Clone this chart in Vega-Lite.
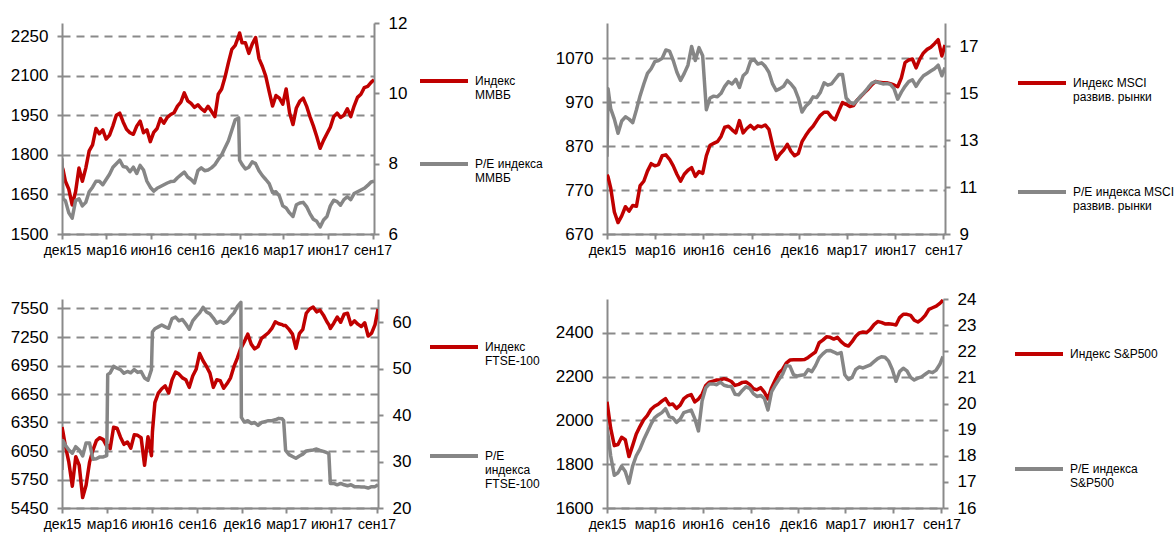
{
"$schema":"https://vega.github.io/schema/vega-lite/v6.json",
"padding":{"left":10,"top":14,"right":5,"bottom":5},
"background":"#ffffff",
"datasets":{
"moex":[
{"d":"2015-12-01","a":1755,"b":8.15},{"d":"2015-12-03","a":1745,"b":7.0},{"d":"2015-12-08","a":1700,"b":6.95},{"d":"2015-12-15","a":1670,"b":6.6},{"d":"2015-12-22","a":1610,"b":6.45},{"d":"2015-12-29","a":1660,"b":6.95},
{"d":"2016-01-05","a":1750,"b":7.0},{"d":"2016-01-12","a":1700,"b":6.8},{"d":"2016-01-19","a":1750,"b":6.9},{"d":"2016-01-26","a":1815,"b":7.2},
{"d":"2016-02-02","a":1838,"b":7.33},{"d":"2016-02-09","a":1900,"b":7.5},{"d":"2016-02-16","a":1880,"b":7.5},{"d":"2016-02-23","a":1895,"b":7.4},
{"d":"2016-03-01","a":1860,"b":7.55},{"d":"2016-03-08","a":1875,"b":7.7},{"d":"2016-03-15","a":1910,"b":7.9},{"d":"2016-03-22","a":1950,"b":8.0},{"d":"2016-03-29","a":1958,"b":8.1},
{"d":"2016-04-05","a":1925,"b":7.92},{"d":"2016-04-12","a":1897,"b":7.9},{"d":"2016-04-19","a":1884,"b":7.77},{"d":"2016-04-26","a":1878,"b":7.9},
{"d":"2016-05-03","a":1909,"b":7.72},{"d":"2016-05-10","a":1928,"b":7.95},{"d":"2016-05-17","a":1884,"b":7.82},{"d":"2016-05-24","a":1895,"b":7.5},{"d":"2016-05-31","a":1850,"b":7.33},
{"d":"2016-06-07","a":1885,"b":7.22},{"d":"2016-06-14","a":1900,"b":7.3},{"d":"2016-06-21","a":1938,"b":7.35},{"d":"2016-06-28","a":1920,"b":7.4},
{"d":"2016-07-05","a":1942,"b":7.45},{"d":"2016-07-12","a":1953,"b":7.49},{"d":"2016-07-19","a":1960,"b":7.5},{"d":"2016-07-26","a":1985,"b":7.6},
{"d":"2016-08-02","a":2000,"b":7.68},{"d":"2016-08-09","a":2035,"b":7.76},{"d":"2016-08-16","a":2005,"b":7.62},{"d":"2016-08-23","a":1995,"b":7.55},{"d":"2016-08-30","a":1980,"b":7.45},
{"d":"2016-09-06","a":1990,"b":7.8},{"d":"2016-09-13","a":1975,"b":7.88},{"d":"2016-09-20","a":1965,"b":7.8},{"d":"2016-09-27","a":1984,"b":7.82},
{"d":"2016-10-04","a":1965,"b":7.88},{"d":"2016-10-11","a":1945,"b":7.97},{"d":"2016-10-18","a":2030,"b":8.12},{"d":"2016-10-25","a":2050,"b":8.25},
{"d":"2016-11-01","a":2095,"b":8.45},{"d":"2016-11-08","a":2150,"b":8.65},{"d":"2016-11-15","a":2200,"b":8.95},{"d":"2016-11-22","a":2215,"b":9.25},{"d":"2016-11-29","a":2250,"b":9.3},
{"d":"2016-12-01","a":2262,"b":8.1},{"d":"2016-12-06","a":2225,"b":7.98},{"d":"2016-12-13","a":2225,"b":7.85},{"d":"2016-12-20","a":2185,"b":7.9},{"d":"2016-12-27","a":2220,"b":8.05},
{"d":"2017-01-03","a":2245,"b":8.0},{"d":"2017-01-10","a":2165,"b":7.8},{"d":"2017-01-17","a":2135,"b":7.66},{"d":"2017-01-24","a":2098,"b":7.55},{"d":"2017-01-31","a":2040,"b":7.43},
{"d":"2017-02-07","a":1985,"b":7.18},{"d":"2017-02-14","a":2025,"b":7.2},{"d":"2017-02-21","a":2015,"b":7.08},{"d":"2017-02-28","a":1992,"b":6.8},
{"d":"2017-03-07","a":2050,"b":6.74},{"d":"2017-03-14","a":1960,"b":6.6},{"d":"2017-03-21","a":1915,"b":6.5},{"d":"2017-03-28","a":1978,"b":6.83},
{"d":"2017-04-04","a":2003,"b":6.88},{"d":"2017-04-11","a":2015,"b":6.9},{"d":"2017-04-18","a":1985,"b":6.78},{"d":"2017-04-25","a":1945,"b":6.58},
{"d":"2017-05-02","a":1910,"b":6.42},{"d":"2017-05-09","a":1870,"b":6.36},{"d":"2017-05-16","a":1825,"b":6.2},{"d":"2017-05-23","a":1855,"b":6.4},{"d":"2017-05-30","a":1880,"b":6.5},
{"d":"2017-06-06","a":1905,"b":6.8},{"d":"2017-06-13","a":1945,"b":6.96},{"d":"2017-06-20","a":1958,"b":6.92},{"d":"2017-06-27","a":1942,"b":6.82},
{"d":"2017-07-04","a":1950,"b":6.98},{"d":"2017-07-11","a":1975,"b":7.06},{"d":"2017-07-18","a":1945,"b":6.98},{"d":"2017-07-25","a":1985,"b":7.15},
{"d":"2017-08-01","a":2018,"b":7.2},{"d":"2017-08-08","a":2030,"b":7.25},{"d":"2017-08-15","a":2055,"b":7.3},{"d":"2017-08-22","a":2060,"b":7.38},{"d":"2017-08-29","a":2075,"b":7.48},
{"d":"2017-09-04","a":2085,"b":7.5}
],
"msci":[
{"d":"2015-12-01","a":805,"b":12.3},{"d":"2015-12-03","a":800,"b":15.2},{"d":"2015-12-08","a":775,"b":14.35},{"d":"2015-12-15","a":720,"b":13.9},{"d":"2015-12-22","a":696,"b":13.3},{"d":"2015-12-29","a":711,"b":13.82},
{"d":"2016-01-05","a":732,"b":14.0},{"d":"2016-01-12","a":722,"b":13.9},{"d":"2016-01-19","a":735,"b":13.75},{"d":"2016-01-26","a":733,"b":14.3},
{"d":"2016-02-02","a":780,"b":14.9},{"d":"2016-02-09","a":790,"b":15.4},{"d":"2016-02-16","a":813,"b":15.85},{"d":"2016-02-23","a":830,"b":16.05},
{"d":"2016-03-01","a":825,"b":16.35},{"d":"2016-03-08","a":828,"b":16.4},{"d":"2016-03-15","a":848,"b":16.5},{"d":"2016-03-22","a":850,"b":16.85},{"d":"2016-03-29","a":840,"b":16.8},
{"d":"2016-04-05","a":825,"b":16.4},{"d":"2016-04-12","a":806,"b":15.9},{"d":"2016-04-19","a":790,"b":15.55},{"d":"2016-04-26","a":806,"b":15.85},
{"d":"2016-05-03","a":815,"b":16.2},{"d":"2016-05-10","a":821,"b":17.0},{"d":"2016-05-17","a":801,"b":16.4},{"d":"2016-05-24","a":812,"b":16.95},{"d":"2016-05-31","a":808,"b":16.6},
{"d":"2016-06-07","a":848,"b":14.3},{"d":"2016-06-14","a":872,"b":14.8},{"d":"2016-06-21","a":876,"b":14.88},{"d":"2016-06-28","a":880,"b":14.85},
{"d":"2016-07-05","a":892,"b":15.0},{"d":"2016-07-12","a":913,"b":15.3},{"d":"2016-07-19","a":915,"b":15.5},{"d":"2016-07-26","a":907,"b":15.4},
{"d":"2016-08-02","a":900,"b":15.6},{"d":"2016-08-09","a":928,"b":15.25},{"d":"2016-08-16","a":900,"b":15.75},{"d":"2016-08-23","a":910,"b":15.9},{"d":"2016-08-30","a":917,"b":16.37},
{"d":"2016-09-06","a":909,"b":16.44},{"d":"2016-09-13","a":916,"b":16.25},{"d":"2016-09-20","a":914,"b":16.3},{"d":"2016-09-27","a":918,"b":16.15},
{"d":"2016-10-04","a":908,"b":15.9},{"d":"2016-10-11","a":872,"b":15.4},{"d":"2016-10-18","a":840,"b":15.12},{"d":"2016-10-25","a":852,"b":15.2},
{"d":"2016-11-01","a":861,"b":15.3},{"d":"2016-11-08","a":874,"b":15.55},{"d":"2016-11-15","a":858,"b":15.4},{"d":"2016-11-22","a":848,"b":15.2},{"d":"2016-11-29","a":853,"b":14.8},
{"d":"2016-12-06","a":880,"b":14.2},{"d":"2016-12-13","a":894,"b":14.45},{"d":"2016-12-20","a":906,"b":14.6},{"d":"2016-12-27","a":915,"b":14.85},
{"d":"2017-01-03","a":928,"b":14.82},{"d":"2017-01-10","a":940,"b":15.05},{"d":"2017-01-17","a":947,"b":15.45},{"d":"2017-01-24","a":947,"b":15.35},{"d":"2017-01-31","a":936,"b":15.4},
{"d":"2017-02-07","a":930,"b":15.6},{"d":"2017-02-14","a":950,"b":15.8},{"d":"2017-02-21","a":969,"b":15.8},{"d":"2017-02-28","a":965,"b":14.8},
{"d":"2017-03-07","a":960,"b":14.62},{"d":"2017-03-14","a":962,"b":14.55},{"d":"2017-03-21","a":975,"b":14.7},{"d":"2017-03-28","a":983,"b":14.9},
{"d":"2017-04-04","a":992,"b":15.05},{"d":"2017-04-11","a":1000,"b":15.25},{"d":"2017-04-18","a":1010,"b":15.44},{"d":"2017-04-25","a":1017,"b":15.5},
{"d":"2017-05-02","a":1015,"b":15.45},{"d":"2017-05-09","a":1014,"b":15.4},{"d":"2017-05-16","a":1014,"b":15.42},{"d":"2017-05-23","a":1012,"b":15.38},{"d":"2017-05-30","a":1009,"b":15.2},
{"d":"2017-06-06","a":1005,"b":14.75},{"d":"2017-06-13","a":1025,"b":15.05},{"d":"2017-06-20","a":1060,"b":15.3},{"d":"2017-06-27","a":1066,"b":15.5},
{"d":"2017-07-04","a":1068,"b":15.58},{"d":"2017-07-11","a":1048,"b":15.3},{"d":"2017-07-18","a":1068,"b":15.55},{"d":"2017-07-25","a":1082,"b":15.75},
{"d":"2017-08-01","a":1090,"b":15.85},{"d":"2017-08-08","a":1095,"b":15.95},{"d":"2017-08-15","a":1103,"b":16.05},{"d":"2017-08-22","a":1112,"b":16.2},{"d":"2017-08-29","a":1075,"b":15.75},
{"d":"2017-09-04","a":1100,"b":16.1}
],
"ftse":[
{"d":"2015-12-01","a":6303,"b":28.2},{"d":"2015-12-03","a":6250,"b":34.5},{"d":"2015-12-08","a":6100,"b":33.5},{"d":"2015-12-15","a":5930,"b":32.5},{"d":"2015-12-22","a":5680,"b":31.8},{"d":"2015-12-29","a":5990,"b":33.2},
{"d":"2016-01-05","a":5900,"b":32.5},{"d":"2016-01-12","a":5560,"b":31.2},{"d":"2016-01-19","a":5690,"b":34.0},{"d":"2016-01-26","a":5930,"b":34.0},
{"d":"2016-02-02","a":6060,"b":30.5},{"d":"2016-02-09","a":6160,"b":30.6},{"d":"2016-02-16","a":6190,"b":31.0},{"d":"2016-02-23","a":6170,"b":31.0},
{"d":"2016-03-01","a":6100,"b":31.3},{"d":"2016-03-03","a":6110,"b":48.7},{"d":"2016-03-08","a":6075,"b":49.1},{"d":"2016-03-15","a":6300,"b":50.5},{"d":"2016-03-22","a":6290,"b":50.1},{"d":"2016-03-29","a":6195,"b":49.8},
{"d":"2016-04-05","a":6120,"b":49.0},{"d":"2016-04-12","a":6145,"b":49.4},{"d":"2016-04-19","a":6080,"b":49.1},{"d":"2016-04-26","a":6220,"b":49.8},
{"d":"2016-05-03","a":6215,"b":49.2},{"d":"2016-05-10","a":6190,"b":49.4},{"d":"2016-05-17","a":5900,"b":48.0},{"d":"2016-05-24","a":6200,"b":47.5},{"d":"2016-05-31","a":6000,"b":49.8},
{"d":"2016-06-02","a":6250,"b":57.9},{"d":"2016-06-07","a":6560,"b":58.6},{"d":"2016-06-14","a":6660,"b":59.0},{"d":"2016-06-21","a":6705,"b":59.4},{"d":"2016-06-28","a":6735,"b":59.0},
{"d":"2016-07-05","a":6660,"b":58.7},{"d":"2016-07-12","a":6800,"b":60.8},{"d":"2016-07-19","a":6880,"b":61.1},{"d":"2016-07-26","a":6860,"b":60.3},
{"d":"2016-08-02","a":6820,"b":60.6},{"d":"2016-08-09","a":6800,"b":59.6},{"d":"2016-08-16","a":6720,"b":58.5},{"d":"2016-08-23","a":6840,"b":60.3},{"d":"2016-08-30","a":6910,"b":61.2},
{"d":"2016-09-06","a":7076,"b":62.0},{"d":"2016-09-13","a":7000,"b":63.2},{"d":"2016-09-20","a":6940,"b":62.2},{"d":"2016-09-27","a":6870,"b":61.8},
{"d":"2016-10-04","a":6720,"b":60.9},{"d":"2016-10-11","a":6800,"b":59.8},{"d":"2016-10-18","a":6790,"b":60.2},{"d":"2016-10-25","a":6710,"b":59.8},
{"d":"2016-11-01","a":6760,"b":60.2},{"d":"2016-11-08","a":6820,"b":61.2},{"d":"2016-11-15","a":6940,"b":62.0},{"d":"2016-11-22","a":7030,"b":63.4},{"d":"2016-11-29","a":7135,"b":64.3},
{"d":"2016-11-30","a":7140,"b":39.5},{"d":"2016-12-06","a":7200,"b":38.5},{"d":"2016-12-13","a":7280,"b":38.8},{"d":"2016-12-20","a":7175,"b":38.2},{"d":"2016-12-27","a":7125,"b":38.4},
{"d":"2017-01-03","a":7150,"b":37.8},{"d":"2017-01-10","a":7235,"b":38.4},{"d":"2017-01-17","a":7265,"b":38.6},{"d":"2017-01-24","a":7295,"b":38.8},{"d":"2017-01-31","a":7340,"b":38.8},
{"d":"2017-02-07","a":7410,"b":39.0},{"d":"2017-02-14","a":7390,"b":39.3},{"d":"2017-02-21","a":7380,"b":39.2},{"d":"2017-02-24","a":7370,"b":38.8},{"d":"2017-02-28","a":7370,"b":32.4},
{"d":"2017-03-07","a":7330,"b":31.5},{"d":"2017-03-14","a":7280,"b":31.1},{"d":"2017-03-21","a":7130,"b":30.7},{"d":"2017-03-28","a":7286,"b":31.2},
{"d":"2017-04-04","a":7330,"b":31.6},{"d":"2017-04-11","a":7500,"b":32.3},{"d":"2017-04-18","a":7545,"b":32.4},{"d":"2017-04-25","a":7565,"b":32.5},
{"d":"2017-05-02","a":7515,"b":32.7},{"d":"2017-05-09","a":7533,"b":32.4},{"d":"2017-05-16","a":7480,"b":32.2},{"d":"2017-05-23","a":7410,"b":31.9},{"d":"2017-05-27","a":7380,"b":31.7},{"d":"2017-05-30","a":7340,"b":25.3},
{"d":"2017-06-06","a":7395,"b":25.3},{"d":"2017-06-13","a":7460,"b":25.0},{"d":"2017-06-20","a":7405,"b":25.3},{"d":"2017-06-27","a":7490,"b":25.0},
{"d":"2017-07-04","a":7500,"b":24.8},{"d":"2017-07-11","a":7380,"b":25.0},{"d":"2017-07-18","a":7420,"b":24.6},{"d":"2017-07-25","a":7385,"b":24.6},
{"d":"2017-08-01","a":7360,"b":24.5},{"d":"2017-08-08","a":7400,"b":24.5},{"d":"2017-08-15","a":7260,"b":24.3},{"d":"2017-08-22","a":7290,"b":24.6},{"d":"2017-08-29","a":7380,"b":24.6},
{"d":"2017-09-04","a":7545,"b":25.0}
],
"spx":[
{"d":"2015-12-01","a":2085,"b":19.1},{"d":"2015-12-08","a":1965,"b":18.0},{"d":"2015-12-15","a":1885,"b":17.25},{"d":"2015-12-22","a":1890,"b":17.35},{"d":"2015-12-29","a":1923,"b":17.6},
{"d":"2016-01-05","a":1912,"b":17.4},{"d":"2016-01-12","a":1835,"b":16.95},{"d":"2016-01-19","a":1885,"b":17.6},{"d":"2016-01-26","a":1938,"b":18.0},
{"d":"2016-02-02","a":1972,"b":18.25},{"d":"2016-02-09","a":2003,"b":18.6},{"d":"2016-02-16","a":2022,"b":18.9},{"d":"2016-02-23","a":2050,"b":19.2},
{"d":"2016-03-01","a":2065,"b":19.45},{"d":"2016-03-08","a":2074,"b":19.56},{"d":"2016-03-15","a":2088,"b":19.65},{"d":"2016-03-22","a":2100,"b":19.8},{"d":"2016-03-29","a":2072,"b":19.5},
{"d":"2016-04-05","a":2075,"b":19.45},{"d":"2016-04-12","a":2055,"b":19.28},{"d":"2016-04-19","a":2070,"b":19.4},{"d":"2016-04-26","a":2100,"b":19.65},
{"d":"2016-05-03","a":2112,"b":19.7},{"d":"2016-05-10","a":2118,"b":19.75},{"d":"2016-05-17","a":2085,"b":19.42},{"d":"2016-05-24","a":2098,"b":18.95},{"d":"2016-05-31","a":2120,"b":20.1},
{"d":"2016-06-07","a":2160,"b":20.6},{"d":"2016-06-14","a":2175,"b":20.75},{"d":"2016-06-21","a":2180,"b":20.75},{"d":"2016-06-28","a":2185,"b":20.72},
{"d":"2016-07-05","a":2186,"b":20.82},{"d":"2016-07-12","a":2191,"b":20.7},{"d":"2016-07-19","a":2186,"b":20.66},{"d":"2016-07-26","a":2178,"b":20.65},
{"d":"2016-08-02","a":2160,"b":20.35},{"d":"2016-08-09","a":2165,"b":20.33},{"d":"2016-08-16","a":2174,"b":20.5},{"d":"2016-08-23","a":2176,"b":20.64},{"d":"2016-08-30","a":2165,"b":20.58},
{"d":"2016-09-06","a":2145,"b":20.38},{"d":"2016-09-13","a":2140,"b":20.27},{"d":"2016-09-20","a":2150,"b":20.31},{"d":"2016-09-27","a":2130,"b":20.2},
{"d":"2016-10-04","a":2098,"b":19.75},{"d":"2016-10-11","a":2150,"b":20.45},{"d":"2016-10-18","a":2185,"b":20.7},{"d":"2016-10-25","a":2218,"b":20.92},
{"d":"2016-11-01","a":2233,"b":21.12},{"d":"2016-11-08","a":2262,"b":21.45},{"d":"2016-11-15","a":2276,"b":21.43},{"d":"2016-11-22","a":2277,"b":21.1},{"d":"2016-11-29","a":2277,"b":21.05},
{"d":"2016-12-06","a":2277,"b":21.08},{"d":"2016-12-13","a":2278,"b":21.1},{"d":"2016-12-20","a":2288,"b":21.3},{"d":"2016-12-27","a":2301,"b":21.22},
{"d":"2017-01-03","a":2313,"b":21.45},{"d":"2017-01-10","a":2355,"b":21.75},{"d":"2017-01-17","a":2367,"b":21.9},{"d":"2017-01-24","a":2382,"b":22.02},{"d":"2017-01-31","a":2380,"b":22.03},
{"d":"2017-02-07","a":2372,"b":21.97},{"d":"2017-02-14","a":2380,"b":21.9},{"d":"2017-02-21","a":2360,"b":21.95},{"d":"2017-02-28","a":2346,"b":21.1},
{"d":"2017-03-07","a":2340,"b":20.92},{"d":"2017-03-14","a":2360,"b":21.0},{"d":"2017-03-21","a":2385,"b":21.3},{"d":"2017-03-28","a":2400,"b":21.4},
{"d":"2017-04-04","a":2404,"b":21.36},{"d":"2017-04-11","a":2402,"b":21.42},{"d":"2017-04-18","a":2416,"b":21.48},{"d":"2017-04-25","a":2438,"b":21.6},
{"d":"2017-05-02","a":2452,"b":21.72},{"d":"2017-05-09","a":2448,"b":21.79},{"d":"2017-05-16","a":2441,"b":21.77},{"d":"2017-05-23","a":2442,"b":21.62},{"d":"2017-05-30","a":2440,"b":21.3},
{"d":"2017-06-06","a":2436,"b":20.85},{"d":"2017-06-13","a":2470,"b":21.22},{"d":"2017-06-20","a":2485,"b":21.35},{"d":"2017-06-27","a":2485,"b":21.25},
{"d":"2017-07-04","a":2480,"b":21.0},{"d":"2017-07-11","a":2458,"b":20.9},{"d":"2017-07-18","a":2450,"b":20.97},{"d":"2017-07-25","a":2462,"b":21.02},
{"d":"2017-08-01","a":2480,"b":21.12},{"d":"2017-08-08","a":2508,"b":21.22},{"d":"2017-08-15","a":2515,"b":21.18},{"d":"2017-08-22","a":2522,"b":21.28},{"d":"2017-08-29","a":2535,"b":21.5},
{"d":"2017-09-04","a":2550,"b":21.8}
]
},
"columns":2,
"spacing":{"row":65,"column":229},
"bounds":"flush",
"align":"none",
"resolve":{"scale":{"color":"independent","x":"independent","y":"independent"},"legend":{"color":"independent"}},
"concat":[
{
 "width":312,"height":211,
 "data":{"name":"moex"},
 "encoding":{"x":{"field":"d","type":"temporal","title":null,
   "scale":{"type":"utc","domain":[{"year":2015,"month":12,"date":1,"utc":true},{"year":2017,"month":9,"date":4,"utc":true}]},
   "axis":{"values":[{"year":2015,"month":12,"date":1,"utc":true},{"year":2016,"month":3,"date":1,"utc":true},{"year":2016,"month":6,"date":1,"utc":true},{"year":2016,"month":9,"date":1,"utc":true},{"year":2016,"month":12,"date":1,"utc":true},{"year":2017,"month":3,"date":1,"utc":true},{"year":2017,"month":6,"date":1,"utc":true},{"year":2017,"month":9,"date":1,"utc":true}],
     "labelExpr":"['янв','фев','мар','апр','май','июн','июл','авг','сен','окт','ноя','дек'][utcmonth(datum.value)] + utcFormat(datum.value, '%y')"}}},
 "layer":[
  {"mark":{"type":"line","strokeWidth":3.5,"clip":true,"strokeJoin":"round"},
   "encoding":{
    "y":{"field":"a","type":"quantitative","title":null,"scale":{"domain":[1500,2300],"nice":false,"zero":false},"axis":{"orient":"left","format":"d","values":[1500,1650,1800,1950,2100,2250],"grid":true}},
    "color":{"datum":"Индекс|ММВБ","type":"nominal","scale":{"domain":["Индекс|ММВБ","P/E индекса|ММВБ"],"range":["#C00000","#868686"]},
      "legend":{"title":null,"orient":"none","legendX":356,"legendY":32,"rowPadding":37,"labelExpr":"split(datum.label, '|')"}}}},
  {"mark":{"type":"line","strokeWidth":3.5,"clip":true,"strokeJoin":"round"},
   "encoding":{
    "y":{"field":"b","type":"quantitative","title":null,"scale":{"domain":[6,12],"nice":false,"zero":false},"axis":{"orient":"right","values":[6,8,10,12],"grid":false}},
    "color":{"datum":"P/E индекса|ММВБ","type":"nominal"}}}
 ],
 "resolve":{"scale":{"y":"independent"}}
},
{
 "width":338,"height":211,
 "data":{"name":"msci"},
 "encoding":{"x":{"field":"d","type":"temporal","title":null,
   "scale":{"type":"utc","domain":[{"year":2015,"month":12,"date":1,"utc":true},{"year":2017,"month":9,"date":4,"utc":true}]},
   "axis":{"values":[{"year":2015,"month":12,"date":1,"utc":true},{"year":2016,"month":3,"date":1,"utc":true},{"year":2016,"month":6,"date":1,"utc":true},{"year":2016,"month":9,"date":1,"utc":true},{"year":2016,"month":12,"date":1,"utc":true},{"year":2017,"month":3,"date":1,"utc":true},{"year":2017,"month":6,"date":1,"utc":true},{"year":2017,"month":9,"date":1,"utc":true}],
     "labelExpr":"['янв','фев','мар','апр','май','июн','июл','авг','сен','окт','ноя','дек'][utcmonth(datum.value)] + utcFormat(datum.value, '%y')"}}},
 "layer":[
  {"mark":{"type":"line","strokeWidth":3.5,"clip":true,"strokeJoin":"round"},
   "encoding":{
    "y":{"field":"a","type":"quantitative","title":null,"scale":{"domain":[670,1150],"nice":false,"zero":false},"axis":{"orient":"left","format":"d","values":[670,770,870,970,1070],"grid":true}},
    "color":{"datum":"Индекс MSCI|развив. рынки","type":"nominal","scale":{"domain":["Индекс MSCI|развив. рынки","P/E индекса MSCI|развив. рынки"],"range":["#C00000","#868686"]},
      "legend":{"title":null,"orient":"none","legendX":409,"legendY":34,"rowPadding":63,"labelExpr":"split(datum.label, '|')"}}}},
  {"mark":{"type":"line","strokeWidth":3.5,"clip":true,"strokeJoin":"round"},
   "encoding":{
    "y":{"field":"b","type":"quantitative","title":null,"scale":{"domain":[9,18],"nice":false,"zero":false},"axis":{"orient":"right","values":[9,11,13,15,17],"grid":false}},
    "color":{"datum":"P/E индекса MSCI|развив. рынки","type":"nominal"}}}
 ],
 "resolve":{"scale":{"y":"independent"}}
},
{
 "width":316,"height":209,
 "data":{"name":"ftse"},
 "encoding":{"x":{"field":"d","type":"temporal","title":null,
   "scale":{"type":"utc","domain":[{"year":2015,"month":12,"date":1,"utc":true},{"year":2017,"month":9,"date":4,"utc":true}]},
   "axis":{"values":[{"year":2015,"month":12,"date":1,"utc":true},{"year":2016,"month":3,"date":1,"utc":true},{"year":2016,"month":6,"date":1,"utc":true},{"year":2016,"month":9,"date":1,"utc":true},{"year":2016,"month":12,"date":1,"utc":true},{"year":2017,"month":3,"date":1,"utc":true},{"year":2017,"month":6,"date":1,"utc":true},{"year":2017,"month":9,"date":1,"utc":true}],
     "labelExpr":"['янв','фев','мар','апр','май','июн','июл','авг','сен','окт','ноя','дек'][utcmonth(datum.value)] + utcFormat(datum.value, '%y')"}}},
 "layer":[
  {"mark":{"type":"line","strokeWidth":3.5,"clip":true,"strokeJoin":"round"},
   "encoding":{
    "y":{"field":"a","type":"quantitative","title":null,"scale":{"domain":[5450,7650],"nice":false,"zero":false},"axis":{"orient":"left","format":"d","values":[5450,5750,6050,6350,6650,6950,7250,7550],"grid":true}},
    "color":{"datum":"Индекс|FTSE-100","type":"nominal","scale":{"domain":["Индекс|FTSE-100","P/E|индекса|FTSE-100"],"range":["#C00000","#868686"]},
      "legend":{"title":null,"orient":"none","legendX":366,"legendY":22,"rowPadding":63,"labelExpr":"split(datum.label, '|')"}}}},
  {"mark":{"type":"line","strokeWidth":3.5,"clip":true,"strokeJoin":"round"},
   "encoding":{
    "y":{"field":"b","type":"quantitative","title":null,"scale":{"domain":[20,65],"nice":false,"zero":false},"axis":{"orient":"right","values":[20,30,40,50,60],"grid":false}},
    "color":{"datum":"P/E|индекса|FTSE-100","type":"nominal"}}}
 ],
 "resolve":{"scale":{"y":"independent"}}
},
{
 "width":336,"height":209,
 "data":{"name":"spx"},
 "encoding":{"x":{"field":"d","type":"temporal","title":null,
   "scale":{"type":"utc","domain":[{"year":2015,"month":12,"date":1,"utc":true},{"year":2017,"month":9,"date":4,"utc":true}]},
   "axis":{"values":[{"year":2015,"month":12,"date":1,"utc":true},{"year":2016,"month":3,"date":1,"utc":true},{"year":2016,"month":6,"date":1,"utc":true},{"year":2016,"month":9,"date":1,"utc":true},{"year":2016,"month":12,"date":1,"utc":true},{"year":2017,"month":3,"date":1,"utc":true},{"year":2017,"month":6,"date":1,"utc":true},{"year":2017,"month":9,"date":1,"utc":true}],
     "labelExpr":"['янв','фев','мар','апр','май','июн','июл','авг','сен','окт','ноя','дек'][utcmonth(datum.value)] + utcFormat(datum.value, '%y')"}}},
 "layer":[
  {"mark":{"type":"line","strokeWidth":3.5,"clip":true,"strokeJoin":"round"},
   "encoding":{
    "y":{"field":"a","type":"quantitative","title":null,"scale":{"domain":[1600,2555],"nice":false,"zero":false},"axis":{"orient":"left","format":"d","values":[1600,1800,2000,2200,2400],"grid":true}},
    "color":{"datum":"Индекс S&P500","type":"nominal","scale":{"domain":["Индекс S&P500","P/E индекса|S&P500"],"range":["#C00000","#868686"]},
      "legend":{"title":null,"orient":"none","legendX":406,"legendY":29,"rowPadding":81,"labelExpr":"split(datum.label, '|')"}}}},
  {"mark":{"type":"line","strokeWidth":3.5,"clip":true,"strokeJoin":"round"},
   "encoding":{
    "y":{"field":"b","type":"quantitative","title":null,"scale":{"domain":[16,24],"nice":false,"zero":false},"axis":{"orient":"right","values":[16,17,18,19,20,21,22,23,24],"grid":false}},
    "color":{"datum":"P/E индекса|S&P500","type":"nominal"}}}
 ],
 "resolve":{"scale":{"y":"independent"}}
}
],
"config":{
 "view":{"stroke":null},
 "font":"Liberation Sans",
 "axis":{"domainColor":"#8a8a8a","domainWidth":2,"tickColor":"#8a8a8a","tickWidth":2,"labelColor":"#000000","gridColor":"#8a8a8a","gridWidth":2,"gridDash":[8,6]},
 "axisX":{"tickSize":5,"labelFont":"Liberation Sans","labelFontSize":14,"labelPadding":4,"labelFlush":false,"labelOverlap":false,"grid":false},
 "axisY":{"tickSize":5,"labelFont":"Liberation Sans","labelFontSize":17,"labelPadding":9},
 "legend":{"padding":0,"symbolType":"stroke","symbolSize":2304,"symbolStrokeWidth":4,"labelFont":"Liberation Sans","labelFontSize":12,"labelColor":"#000000","labelLimit":300,"labelOffset":5,"labelBaseline":"middle"}
}
}
